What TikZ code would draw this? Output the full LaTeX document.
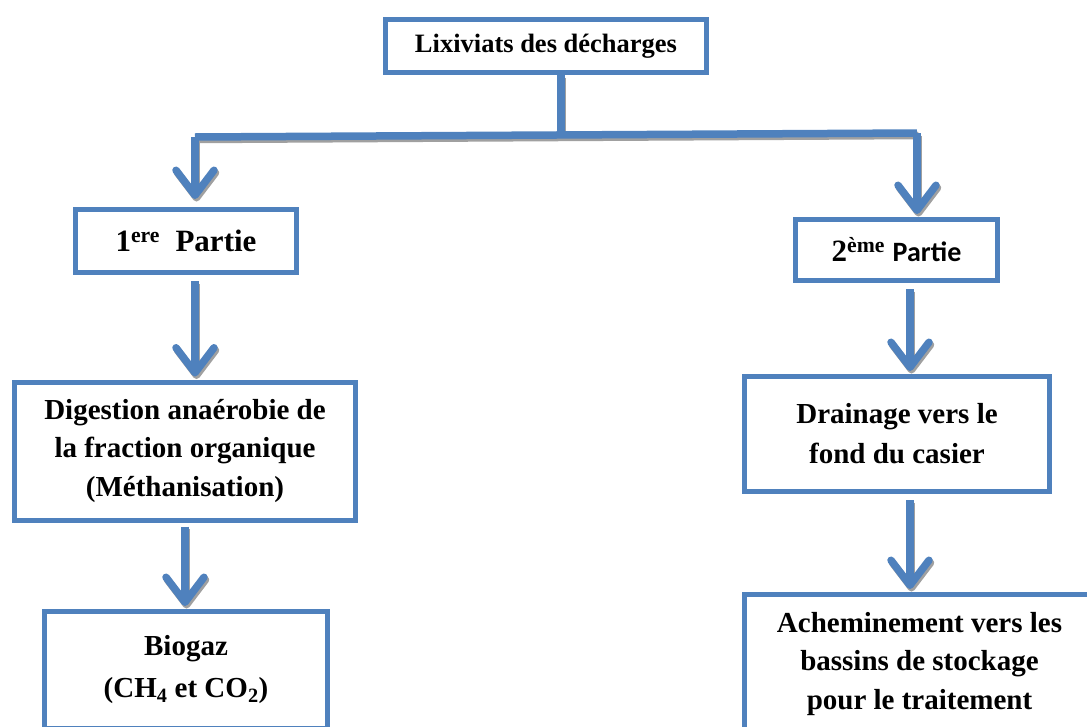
\documentclass[tikz,border=0pt]{standalone}
\usepackage{fontspec}
\setmainfont{Liberation Serif}
\newfontfamily\calibrifont{Carlito}
\usetikzlibrary{arrows.meta}
\definecolor{boxblue}{HTML}{4F81BD}
\definecolor{shadowgray}{HTML}{A0A0A0}
\tikzset{
  x=1pt, y=-1pt,
  box/.style={draw=boxblue, line width=5pt, fill=white, align=center, inner sep=0pt, font=\bfseries},
  conn/.style={line width=7.5pt},
  tip/.style={-{Straight Barb[length=25pt, width=38pt, round]}},
}
\newcommand\myconnectors[1]{%
  \draw[conn, #1] (top.south -| junc) -- (junc);
  \draw[conn, #1] (lc) -- (rc);
  \draw[conn, tip, #1, shorten >=8pt] (lc) -- (lc |- p1.north);
  \draw[conn, tip, #1, shorten >=3pt] (rc) -- (rc |- p2.north);
  \draw[conn, tip, #1, shorten <=6pt, shorten >=3pt] (p1.south -| lc) -- (dig.north -| lc);
  \draw[conn, tip, #1, shorten <=4pt, shorten >=3pt] (dig.south) -- (bio.north -| dig.south);
  \draw[conn, tip, #1, shorten <=6pt, shorten >=3pt] (p2.south -| rx) -- (dra.north -| rx);
  \draw[conn, tip, #1, shorten <=6pt, shorten >=3pt] (dra.south -| rx) -- (ach.north -| rx);
}
\begin{document}
\begin{tikzpicture}
\useasboundingbox (0,0) rectangle (1087,726);
\clip (0,0) rectangle (1087,726);
% boxes
\node[box, minimum width=321pt, minimum height=53pt, font=\bfseries\fontsize{26.5}{30}\selectfont] (top) at (546,46) {Lixiviats des décharges};
\node[box, minimum width=221pt, minimum height=63pt, font=\bfseries\fontsize{31}{34}\selectfont] (p1) at (186,241) {1\textsuperscript{ere}\ \ Partie};
\node[box, minimum width=202pt, minimum height=61pt, font=\bfseries\fontsize{31}{34}\selectfont] (p2) at (896.5,250) {2\textsuperscript{ème} {\calibrifont\fontsize{28}{32}\selectfont Partie}};
\node[box, minimum width=341pt, minimum height=138pt, font=\bfseries\fontsize{29}{38.5}\selectfont] (dig) at (185,451) {Digestion anaérobie de\\la fraction organique\\(Méthanisation)};
\node[box, minimum width=305pt, minimum height=115pt, font=\bfseries\fontsize{29}{40}\selectfont] (dra) at (897,434) {Drainage vers le\\fond du casier};
\node[box, minimum width=283pt, minimum height=117pt, font=\bfseries\fontsize{29}{42}\selectfont] (bio) at (186,670) {Biogaz\\(CH\textsubscript{4} et CO\textsubscript{2})};
\node[box, minimum width=350pt, minimum height=139pt, font=\bfseries\fontsize{29}{38.5}\selectfont] (ach) at (919.5,664) {Acheminement vers les\\bassins de stockage\\pour le traitement};
% connectors
\coordinate (junc) at (561,135);
\coordinate (lc) at (195,137);
\coordinate (rc) at (917,133);
\coordinate (rx) at (910,300);
\begin{scope}[transform canvas={shift={(1.5pt,-2.5pt)}}]
\myconnectors{draw=shadowgray}
\end{scope}
\myconnectors{draw=boxblue}
\end{tikzpicture}
\end{document}
